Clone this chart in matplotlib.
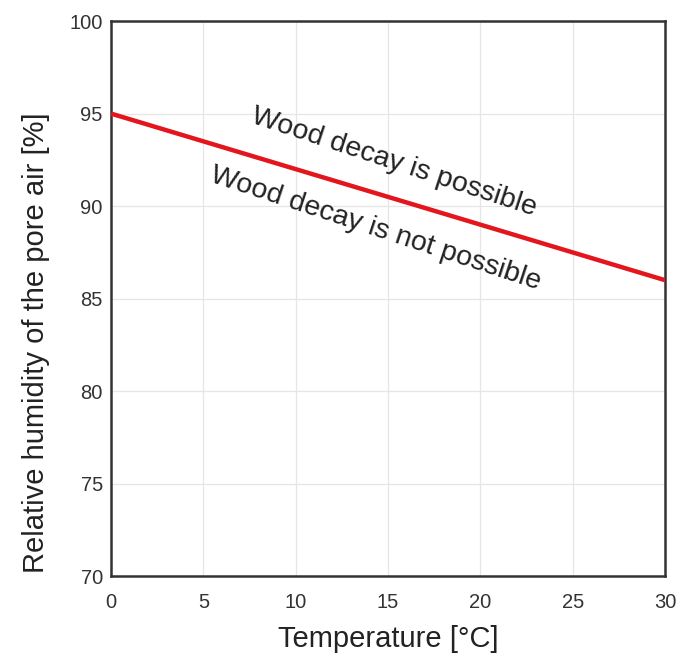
import matplotlib.pyplot as plt
import numpy as np

plt.rcParams['font.family'] = ['Liberation Sans', 'DejaVu Sans']

# threshold line: temperature vs relative humidity
temp = [0, 30]
rh = [95, 86]
x_ticks = [0, 5, 10, 15, 20, 25, 30]
y_ticks = [70, 75, 80, 85, 90, 95, 100]

fig = plt.figure(figsize=(6.82, 6.6), dpi=100)
ax = fig.add_axes([0.163, 0.127, 0.812, 0.841])
ax.plot(temp, rh, color='#e3161d', linewidth=3.2, solid_capstyle='butt', zorder=3)

ax.set_xlim(0, 30)
ax.set_ylim(70, 100)
ax.set_xticks(x_ticks)
ax.set_yticks(y_ticks)
ax.grid(True, color='#e6e6e6', linewidth=0.9)
ax.tick_params(length=0, labelsize=14.5, labelcolor='#333333')
ax.tick_params(axis='x', pad=12)
ax.tick_params(axis='y', pad=6)
for s in ax.spines.values():
    s.set_color('#333333')
    s.set_linewidth(1.8)

ax.set_xlabel('Temperature [°C]', fontsize=21, color='#222222')
ax.set_ylabel('Relative humidity of the pore air [%]', fontsize=21, color='#222222')
ax.xaxis.set_label_coords(0.5, -0.088)
ax.yaxis.set_label_coords(-0.11, 0.42)

# rotation matching the line in screen space
fig.canvas.draw()
p0 = ax.transData.transform((temp[0], rh[0]))
p1 = ax.transData.transform((temp[1], rh[1]))
ang = np.degrees(np.arctan2(p1[1] - p0[1], p1[0] - p0[0]))

ax.text(15.3, 92.35, 'Wood decay is possible', rotation=ang - 1.5, rotation_mode='anchor',
        ha='center', va='center', fontsize=20.5, color='#222222')
ax.text(14.3, 88.75, 'Wood decay is not possible', rotation=ang - 1.5, rotation_mode='anchor',
        ha='center', va='center', fontsize=20.5, color='#222222')

fig.savefig('out.png', dpi=100)
